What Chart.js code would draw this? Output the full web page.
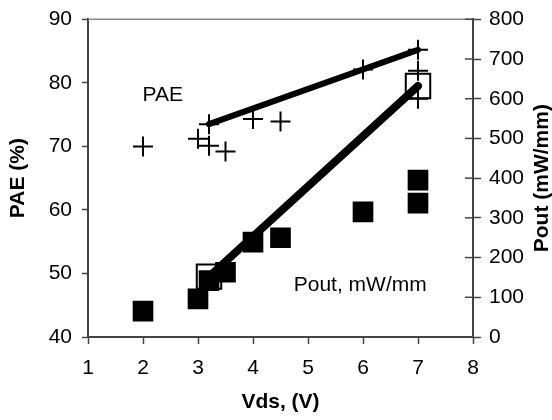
<!DOCTYPE html>
<html>
<head>
<meta charset="utf-8">
<script src="https://cdn.jsdelivr.net/npm/chart.js@4.4.1/dist/chart.umd.min.js"></script>
<style>
  html, body { margin: 0; padding: 0; background: #fff; overflow: hidden; }
  canvas { display: block; }
</style>
</head>
<body>
<canvas id="chart" width="552" height="420"></canvas>
<script>
// PAE points (%) against Vds (V)
const paeVds = [2, 3, 3.2, 3.2, 3.5, 4, 4.5, 6, 7, 7, 7];
const paeValues = [70.0, 71.2, 70.1, 73.5, 69.2, 74.3, 73.9, 82.1, 85.2, 81.9, 77.5];

// Pout points (mW/mm) against Vds (V)
const poutVds = [2, 3, 3.2, 3.5, 4, 4.5, 6, 7, 7];
const poutValues = [65, 96, 142, 163, 239, 250, 315, 337, 395];

// trend lines
const paeFitVds = [3.2, 7];
const paeFit = [73.5, 85.2];
const poutFitVds = [3.2, 7];
const poutFit = [152, 632];

// axis ticks
const xTicks = [1, 2, 3, 4, 5, 6, 7, 8];
const paeTicks = [40, 50, 60, 70, 80, 90];
const poutTicks = [0, 100, 200, 300, 400, 500, 600, 700, 800];

const FONT = '"Liberation Sans", Arial, sans-serif';
const AXIS = '#444';

function pairs(xs, ys) {
    return xs.map((v, i) => ({ x: v, y: ys[i] }));
}

// top border, inner half of right ticks, in-plot labels, right title
const extras = {
    id: 'extras',
    afterDraw(chart) {
        const { ctx, chartArea, scales } = chart;
        const x = scales.x, y = scales.y, y1 = scales.y1;
        ctx.save();
        ctx.strokeStyle = '#888';
        ctx.lineWidth = 1.5;
        ctx.beginPath();
        ctx.moveTo(chartArea.left, chartArea.top);
        ctx.lineTo(chartArea.right, chartArea.top);
        ctx.stroke();

        ctx.strokeStyle = AXIS;
        ctx.lineWidth = 1.5;
        y1.ticks.forEach((t) => {
            const py = y1.getPixelForValue(t.value);
            ctx.beginPath();
            ctx.moveTo(chartArea.right - 8, py);
            ctx.lineTo(chartArea.right, py);
            ctx.stroke();
        });

        ctx.fillStyle = '#000';
        ctx.textAlign = 'center';
        ctx.textBaseline = 'middle';
        ctx.font = '21px ' + FONT;
        ctx.fillText('PAE', x.getPixelForValue(2.36), y.getPixelForValue(78));
        ctx.fillText('Pout, mW/mm', x.getPixelForValue(5.95), y1.getPixelForValue(130));

        ctx.font = 'bold 21px ' + FONT;
        ctx.translate(y1.right - 10, (chartArea.top + chartArea.bottom) / 2);
        ctx.rotate(-Math.PI / 2);
        ctx.fillText('Pout (mW/mm)', 0, 0);
        ctx.restore();
    }
};

const ctx = document.getElementById('chart').getContext('2d');
new Chart(ctx, {
    type: 'scatter',
    data: {
        datasets: [
            {
                label: 'PAE',
                data: pairs(paeVds, paeValues),
                yAxisID: 'y',
                pointStyle: 'cross',
                pointRadius: 10,
                pointBorderWidth: 2,
                borderColor: '#000',
                backgroundColor: '#000'
            },
            {
                label: 'PAE fit',
                data: pairs(paeFitVds, paeFit),
                yAxisID: 'y',
                showLine: true,
                borderColor: '#000',
                borderWidth: 6,
                borderCapStyle: 'round',
                pointRadius: 0
            },
            {
                label: 'Pout fit',
                data: pairs(poutFitVds, poutFit),
                yAxisID: 'y1',
                showLine: true,
                borderColor: '#000',
                borderWidth: 8,
                borderCapStyle: 'round',
                pointStyle: 'rect',
                pointRadius: 17.3,
                pointBorderWidth: 2,
                pointBackgroundColor: 'rgba(0,0,0,0)',
                pointBorderColor: '#000'
            },
            {
                label: 'Pout',
                data: pairs(poutVds, poutValues),
                yAxisID: 'y1',
                pointStyle: 'rect',
                pointRadius: 14.6,
                pointBorderWidth: 0,
                borderColor: '#000',
                backgroundColor: '#000'
            }
        ]
    },
    options: {
        responsive: false,
        animation: false,
        layout: { padding: { top: 16, left: 0, right: 0, bottom: 0 } },
        plugins: {
            legend: { display: false },
            tooltip: { enabled: false }
        },
        scales: {
            x: {
                type: 'linear',
                min: 1,
                max: 8,
                afterBuildTicks: (s) => { s.ticks = xTicks.map((v) => ({ value: v })); },
                afterFit: (s) => { s.height = 83; s.paddingLeft = 0; s.paddingRight = 0; },
                border: { display: true, color: AXIS, width: 2 },
                grid: { drawOnChartArea: false, drawTicks: true, tickLength: 7, tickColor: AXIS, tickWidth: 1.5 },
                ticks: { color: '#000', font: { family: FONT, size: 21 }, padding: 12 },
                title: {
                    display: true,
                    text: 'Vds, (V)',
                    color: '#000',
                    font: { family: FONT, size: 21, weight: 'bold' },
                    padding: { top: 0, bottom: 5 }
                }
            },
            y: {
                type: 'linear',
                position: 'left',
                min: 40,
                max: 90,
                afterBuildTicks: (s) => { s.ticks = paeTicks.map((v) => ({ value: v })); },
                afterFit: (s) => { s.width = 88; s.paddingTop = 0; s.paddingBottom = 0; },
                border: { display: true, color: AXIS, width: 2 },
                grid: { drawOnChartArea: false, drawTicks: true, tickLength: 6, tickColor: AXIS, tickWidth: 1.5 },
                ticks: { color: '#000', font: { family: FONT, size: 21 }, padding: 10 },
                title: {
                    display: true,
                    text: 'PAE (%)',
                    color: '#000',
                    font: { family: FONT, size: 21, weight: 'bold' },
                    padding: { top: 6, bottom: 0 }
                }
            },
            y1: {
                type: 'linear',
                position: 'right',
                min: 0,
                max: 800,
                afterBuildTicks: (s) => { s.ticks = poutTicks.map((v) => ({ value: v })); },
                afterFit: (s) => { s.width = 79; s.paddingTop = 0; s.paddingBottom = 0; },
                border: { display: true, color: AXIS, width: 2 },
                grid: { drawOnChartArea: false, drawTicks: true, tickLength: 8, tickColor: AXIS, tickWidth: 1.5 },
                ticks: { color: '#000', font: { family: FONT, size: 21 }, padding: 8 },
                title: { display: false }
            }
        }
    },
    plugins: [extras]
});
</script>
</body>
</html>
